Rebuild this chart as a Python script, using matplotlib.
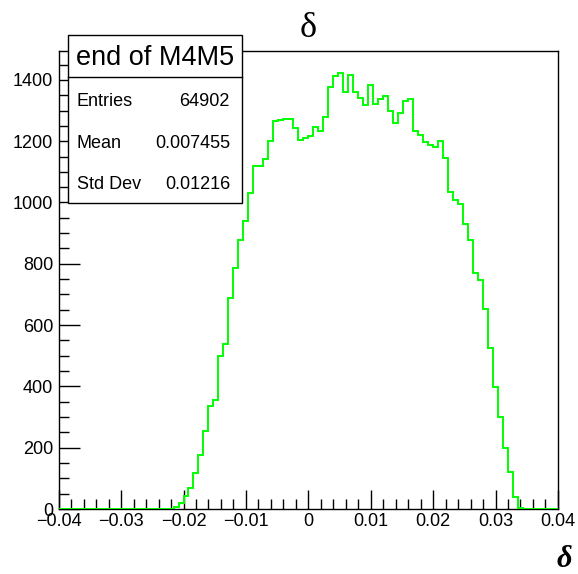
import matplotlib
matplotlib.use("Agg")
import matplotlib.pyplot as plt
from matplotlib.patches import Rectangle
from matplotlib.lines import Line2D
from matplotlib.ticker import MultipleLocator
import numpy as np

# 100 bins of delta between -0.04 and 0.04
x_min, x_max, n_bins = -0.04, 0.04, 100
counts = ([0] * 23 +
          [7, 20, 43, 67, 117, 177, 255, 335, 355, 498,
           537, 688, 787, 877, 938, 1030, 1118, 1119, 1141, 1200,
           1265, 1268, 1273, 1273, 1242, 1204, 1209, 1217, 1245, 1234,
           1280, 1376, 1413, 1424, 1360, 1416, 1362, 1342, 1318, 1383,
           1320, 1337, 1347, 1298, 1260, 1291, 1332, 1337, 1234, 1220,
           1196, 1188, 1180, 1199, 1144, 1035, 1008, 994, 930, 878,
           771, 747, 651, 524, 397, 301, 198, 120, 38, 4] +
          [0] * 7)
hist_title = "end of M4M5"
stat_names = ["Entries", "Mean", "Std Dev"]
stat_values = ["64902", "0.007455", "0.01216"]
x_ticks = [-0.04, -0.03, -0.02, -0.01, 0, 0.01, 0.02, 0.03, 0.04]
x_ticklabels = ["\u22120.04", "\u22120.03", "\u22120.02", "\u22120.01", "0", "0.01", "0.02", "0.03", "0.04"]

W, H = 578, 574
fig = plt.figure(figsize=(W / 100, H / 100), dpi=100)
plt.rcParams["font.family"] = "Liberation Sans"

def fx(px):
    return px / W

def fy(py):
    return 1 - py / H

left, right, top, bottom = 58.7, 557.9, 50.7, 509.0
ax = fig.add_axes([fx(left), fy(bottom), fx(right - left), (bottom - top) / H])

edges = np.linspace(x_min, x_max, n_bins + 1)
ax.stairs(counts, edges, color="#00ff00", lw=1.4, zorder=3)

ax.set_xlim(x_min, x_max)
ax.set_ylim(0, max(counts) * 1.05)

ax.set_xticks(x_ticks)
ax.set_xticklabels(x_ticklabels)
ax.xaxis.set_minor_locator(MultipleLocator(0.002))
ax.yaxis.set_major_locator(MultipleLocator(200))
ax.yaxis.set_minor_locator(MultipleLocator(50))

ax.tick_params(axis="x", which="major", direction="in", length=14, width=1, labelsize=13, pad=3, top=False)
ax.tick_params(axis="x", which="minor", direction="in", length=7, width=1, top=False)
ax.tick_params(axis="y", which="major", direction="in", length=15, width=1, labelsize=13, pad=4, right=False)
ax.tick_params(axis="y", which="minor", direction="in", length=7.5, width=1, right=False)
for s in ax.spines.values():
    s.set_linewidth(1)

# title and axis label
fig.text(fx(308.3), fy(37), "\u03b4", ha="center", va="baseline",
         fontsize=26, family="Liberation Serif")
fig.text(fx(572), fy(567), "\u03b4", ha="right", va="baseline",
         fontsize=22, family="Liberation Serif", weight="bold", style="italic")

# statistics box
bx0, bx1, by0, by1 = 68.3, 241.7, 35.0, 203.3
fig.patches.append(Rectangle((fx(bx0), fy(by1)), fx(bx1 - bx0), (by1 - by0) / H,
                             transform=fig.transFigure, facecolor="white",
                             edgecolor="black", lw=1.0, zorder=10))
fig.lines.append(Line2D([fx(bx0), fx(bx1)], [fy(77.3), fy(77.3)],
                        transform=fig.transFigure, color="black", lw=1.0, zorder=11))
t = fig.text(fx((bx0 + bx1) / 2), fy(65), hist_title, ha="center", va="baseline", fontsize=19.5)
t.set_zorder(12)
for name, val, base in zip(stat_names, stat_values, [106, 148.3, 188.7]):
    fig.text(fx(76.7), fy(base), name, ha="left", va="baseline", fontsize=13, zorder=12)
    fig.text(fx(230), fy(base), val, ha="right", va="baseline", fontsize=13, zorder=12)

fig.savefig("out.png", dpi=100)
